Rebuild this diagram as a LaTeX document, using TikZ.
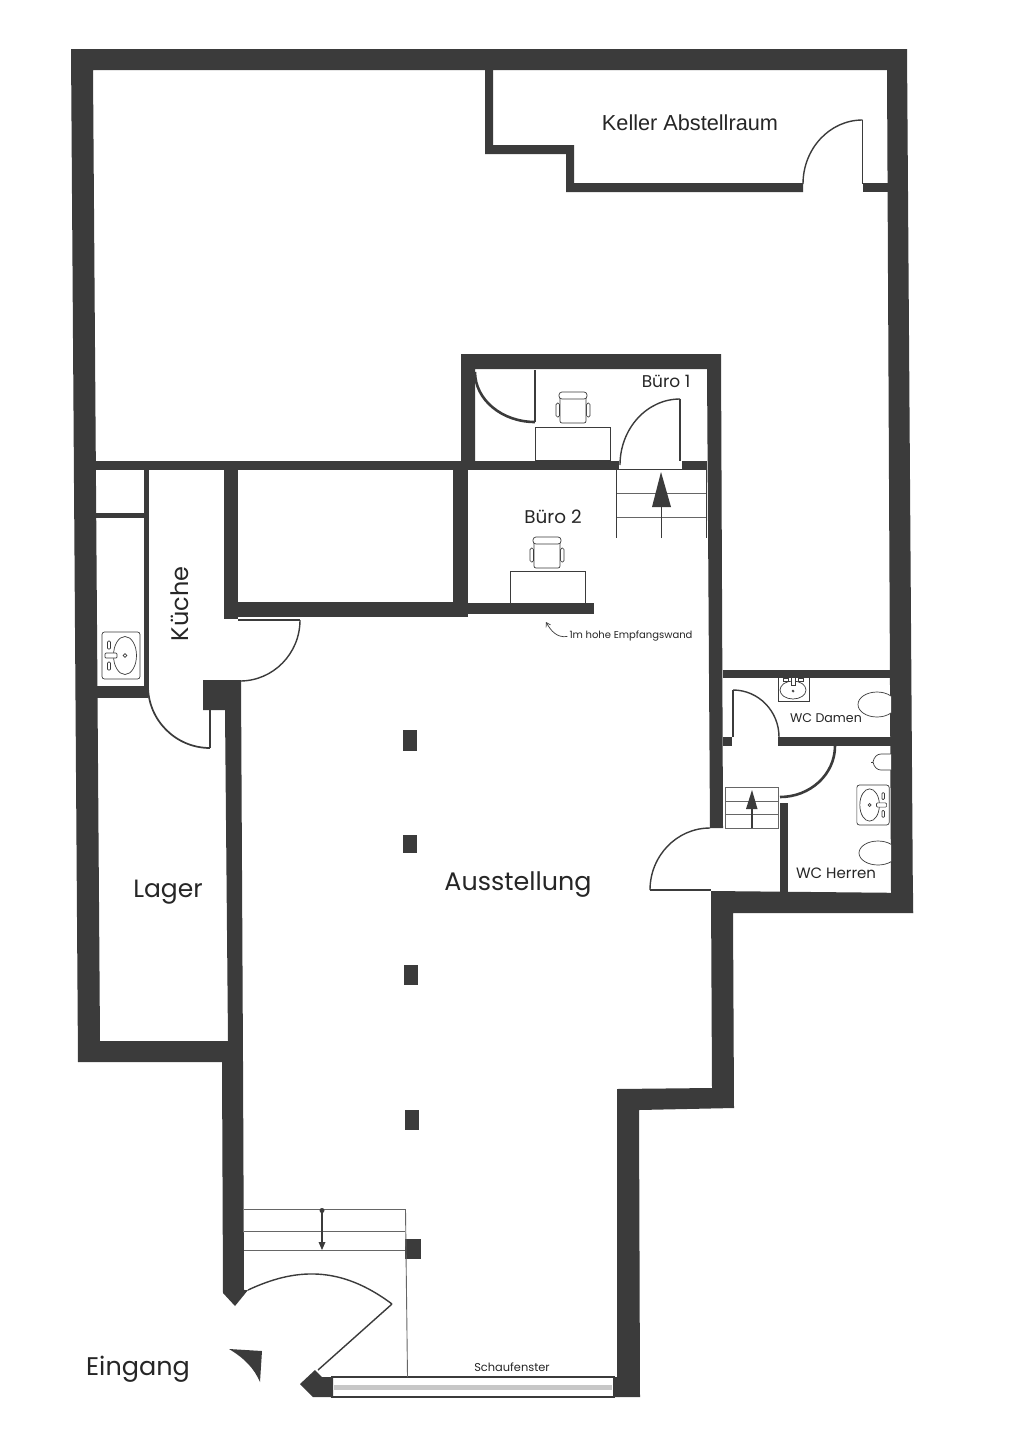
\documentclass[tikz,border=0pt]{standalone}
\usepackage{fontspec}
\setmainfont{Poppins}
\newfontfamily\kellerfont{Liberation Sans}
\usetikzlibrary{calc,arrows.meta}
\definecolor{wallc}{HTML}{3B3B3B}
\tikzset{
  wall/.style={fill=wallc,draw=none},
  thinline/.style={draw=wallc,line width=1pt},
  leaf/.style={draw=wallc,line width=1.4pt},
  thickarc/.style={draw=wallc,line width=2.6pt},
  midarc/.style={draw=wallc,line width=1.7pt},
  fixture/.style={draw=wallc,line width=0.7pt,fill=white},
  grayline/.style={draw=gray!80!black,line width=0.9pt},
  lbl/.style={text=black!85,inner sep=0pt,font=\fontsize{#1}{#1}\selectfont}
}
% quarter arc from a to b with bulge corner c
\newcommand{\qarc}[4][leaf]{\draw[#1] #2 .. controls ($#2!0.552!#4$) and ($#3!0.552!#4$) .. #3;}
\newcommand{\chairat}[2]{%
 \begin{scope}[shift={(#1,#2)}]
  \draw[fixture,rounded corners=1.5pt] (-17,11) rectangle (-13.5,25);
  \draw[fixture,rounded corners=1.5pt] (13.5,11) rectangle (17,25);
  \draw[fixture,rounded corners=2pt] (-13,3) rectangle (13,31);
  \draw[fixture,rounded corners=3pt] (-14,0) rectangle (14,7);
 \end{scope}}
\newcommand{\sinkat}[4]{%
 \begin{scope}[shift={(#1,#2)},rotate=#3,scale=#4]
  \draw[fixture,rounded corners=2.5pt] (-19,-23.5) rectangle (19,23.5);
  \draw[fixture] (-4,0) ellipse (11.5 and 19);
  \draw[fixture] (-4,0) circle (1.8);
  \draw[fixture,rounded corners=1pt] (4,-2.5) rectangle (16,2.5);
  \draw[fixture,rounded corners=1pt] (10.5,-14.5) rectangle (13.5,-6.5);
  \draw[fixture,rounded corners=1pt] (10.5,6.5) rectangle (13.5,14.5);
 \end{scope}}
\begin{document}
\begin{tikzpicture}[x=1pt,y=-1pt]
\useasboundingbox (0,0) rectangle (1011,1440);
\fill[white] (0,0) rectangle (1011,1440);

% outer walls
\fill[wall] (71,49) -- (907,49) -- (913,913) -- (891,893) -- (887,70) -- (93,70) -- (100,1041) -- (78,1062) -- cycle;
% Lager bottom + Ausstellung left wall
\fill[wall] (80,1041) -- (228,1041) -- (225,710) -- (203,710) -- (203,680) -- (241,680) -- (243,1062) -- (244,1290) -- (248,1290) -- (235,1306) -- (223,1293) -- (222,1062) -- (78,1062) -- cycle;
% main horizontal wall
\fill[wall] (93,461) rectangle (619,470);
\fill[wall] (682,461) rectangle (707,470);
% Buero block
\fill[wall] (461,354) -- (721,354) -- (723,828) -- (710,828) -- (707,369) -- (475,369) -- (475,461) -- (461,461) -- cycle;
% Buero 2 wall + reception wall
\fill[wall] (453,470) rectangle (468,605);
\fill[wall] (224,470) rectangle (238,619);
\fill[wall] (238,602) rectangle (468,617);
\fill[wall] (468,603) rectangle (594,614);
% Kueche walls
\fill[wall] (144,470) rectangle (149,687);
\fill[wall] (96,513) rectangle (145,518);
\fill[wall] (96,686) rectangle (148,698);
% Keller walls
\fill[wall] (485,70) -- (493,70) -- (493,145) -- (574,145) -- (574,183) -- (803,183) -- (803,192) -- (566,192) -- (566,154) -- (485,154) -- cycle;
\fill[wall] (863,183) rectangle (888,192);
% WC walls
\fill[wall] (723,670) rectangle (891,678);
\fill[wall] (723,737) rectangle (732,746);
\fill[wall] (778,737) rectangle (891,746);
\fill[wall] (780,803) rectangle (788,893);
% lower right walls
\fill[wall] (711,891) -- (913,893) -- (913,913) -- (733,913) -- (734,1108) -- (639,1110) -- (640,1397) -- (613,1397) -- (613,1377) -- (617,1377) -- (617,1089) -- (712,1088) -- cycle;
% entrance corner
\fill[wall] (300,1384) -- (315,1370) -- (322,1377) -- (333,1377) -- (333,1397) -- (313,1397) -- cycle;
% window
\fill[wall] (331,1376) rectangle (615,1378);
\fill[wall] (331,1395.5) rectangle (615,1397.5);
\fill[black!22] (334,1385) rectangle (612,1390);
% pillars
\fill[wall] (403,730) rectangle (417,751);
\fill[wall] (403,835) rectangle (417,853);
\fill[wall] (404,965) rectangle (418,985);
\fill[wall] (405,1110) rectangle (419,1130);
\fill[wall] (405,1239) rectangle (421,1259);
% entrance triangle
\fill[wall] (229,1349) -- (262,1351) -- (260,1382) .. controls (254,1368) and (244,1358) .. cycle;

% doors
\draw[leaf] (862.5,120) -- (862.5,184);
\qarc{(803,184)}{(862.5,120)}{(803,120)}
\draw[leaf] (680,399) -- (680,461);
\qarc{(620,465)}{(680,399)}{(620,399)}
\draw[line width=1.8pt,draw=wallc] (535,370) -- (535,422);
\qarc[thickarc]{(475,372)}{(535,422)}{(475,422)}
\draw[leaf] (238,620) -- (300,620);
\qarc{(300,620)}{(240,681)}{(300,681)}
\draw[line width=1.8pt,draw=wallc] (210,710) -- (210,748);
\qarc[midarc]{(148,686)}{(210,748)}{(148,748)}
\draw[leaf] (733,737) -- (733,690);
\qarc{(733,690)}{(779,737)}{(779,690)}
\qarc[thickarc]{(835,746)}{(780,797)}{(835,797)}
\draw[leaf] (650,890) -- (711,890);
\qarc{(650,890)}{(710,828)}{(650,828)}
% entrance door
\draw[leaf] (392,1304) -- (318,1370);
\draw[leaf] (248,1290) .. controls (295,1268) and (340,1265) .. (392,1304);

% stairs Buero
\draw[thinline] (616,469.5) -- (707,469.5);
\draw[grayline,line width=0.7pt] (617,493) -- (707,493);
\draw[grayline,line width=0.7pt] (617,517) -- (707,517);
\draw[thinline] (616,469) -- (616,538);
\draw[thinline] (706.5,469) -- (706.5,538);
\draw[draw=wallc,line width=1.6pt] (661.5,538) -- (661.5,505);
\fill[wall] (661,472) -- (671,507) -- (652,507) -- cycle;
% stairs WC
\draw[grayline,line width=0.7pt] (725,787) rectangle (778,828);
\draw[grayline,line width=0.7pt] (725,801) -- (778,801);
\draw[grayline,line width=0.7pt] (725,814) -- (778,814);
\draw[draw=wallc,line width=1.1pt] (752,828) -- (752,808);
\fill[wall] (752,790) -- (757.5,809) -- (746,809) -- cycle;
% stairs entrance
\draw[grayline,line width=1.3pt] (244,1209.5) -- (405,1209.5);
\draw[grayline,line width=1pt] (244,1231) -- (405,1231);
\draw[grayline,line width=1pt] (244,1250) -- (405,1250);
\draw[grayline] (405.5,1209) -- (407.5,1377);
\draw[draw=wallc,line width=1.1pt] (322,1210) -- (322,1248);
\fill[wall] (322,1210.5) circle (2.5);
\fill[wall] (318.5,1242) -- (325.5,1242) -- (322,1250) -- cycle;

% desks and chairs
\draw[thinline] (535.5,427) rectangle (610.5,460);
\chairat{573}{392}
\draw[thinline] (510,571) rectangle (585,603);
\chairat{547}{537}

% fixtures
\sinkat{121}{655.5}{180}{1}
\sinkat{873}{805}{0}{0.85}
\begin{scope}
 \clip (770,678) rectangle (815,702);
 \draw[fixture] (778.5,672) rectangle (809,701);
 \draw[fixture] (793,690) ellipse (13 and 9);
 \draw[fixture] (793,691) circle (1);
 \draw[fixture] (791.5,676) rectangle (795,685);
 \draw[fixture] (783,678) rectangle (788,681);
 \draw[fixture] (798,678) rectangle (803,681);
\end{scope}
\begin{scope}
 \clip (850,685) rectangle (891,725);
 \draw[fixture] (877,704.5) ellipse (19 and 12.5);
\end{scope}
\begin{scope}
 \clip (850,835) rectangle (891,870);
 \draw[fixture] (878,853) ellipse (19 and 12);
\end{scope}
\begin{scope}
 \clip (865,750) rectangle (891,775);
 \draw[fixture] (891,754) -- (881,754) .. controls (877,754) and (874,757) .. (873,762) .. controls (874,767) and (877,770) .. (881,770) -- (891,770);
 \draw[fixture] (873,762) -- (870.5,762);
\end{scope}

% labels
\node[lbl=21.7,font=\kellerfont\fontsize{21.7}{22}\selectfont] (keller) at (690,123) {Keller Abstellraum};
\node[lbl=17] (b1) at (666,381) {Büro 1};
\node[lbl=18.4] (b2) at (553,517) {Büro 2};
\node[lbl=10] (empf) at (631,636.5) {1m hohe Empfangswand};
\node[lbl=24,rotate=90] (kueche) at (180,604) {Küche};
\node[lbl=25] (lager) at (168,892) {Lager};
\node[lbl=25.4] (ausst) at (518,885) {Ausstellung};
\node[lbl=12.6] (damen) at (826,718) {WC Damen};
\node[lbl=15] (herren) at (836,873) {WC Herren};
\node[lbl=25.5] (eingang) at (138,1369) {Eingang};
\node[lbl=11.4] (schauf) at (512,1367) {Schaufenster};
\draw[draw=wallc,line width=0.7pt,-{Straight Barb[length=4pt,width=5pt]}] (empf.west) ++(-2,0) .. controls (557,638) and (551,631) .. (546,622);
\end{tikzpicture}
\end{document}
